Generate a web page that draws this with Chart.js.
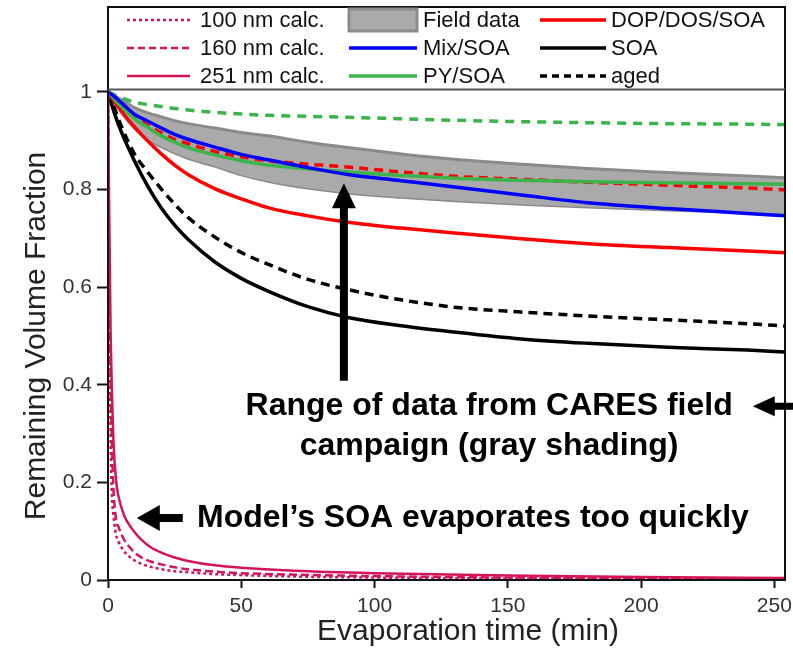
<!DOCTYPE html>
<html>
<head>
<meta charset="utf-8">
<title>Remaining volume fraction during evaporation</title>
<script src="https://cdn.jsdelivr.net/npm/chart.js@4.4.1/dist/chart.umd.min.js"></script>
<style>
  html, body { margin: 0; padding: 0; background: #fff; }
  #wrap { width: 793px; height: 652px; }
</style>
</head>
<body>
<div id="wrap"><canvas id="evapChart" width="793" height="652"></canvas></div>
<script>
// Evaporation times (min) for the chamber runs and field range
const runTimes = [0, 2.5, 5, 10, 15, 20, 25, 30, 40, 50, 60, 75, 90, 110, 130, 155, 180, 210, 240, 255];

// Field data range (gray band)
const fieldHigh = [1, 0.992, 0.984, 0.968, 0.957, 0.949, 0.941, 0.935, 0.926, 0.917, 0.910, 0.897, 0.886, 0.873, 0.862, 0.852, 0.843, 0.835, 0.828, 0.824];
const fieldLow  = [1, 0.978, 0.958, 0.925, 0.902, 0.888, 0.875, 0.864, 0.848, 0.830, 0.817, 0.803, 0.793, 0.784, 0.777, 0.770, 0.764, 0.758, 0.753, 0.750];

// Chamber runs (solid = fresh, dashed = aged)
const mixSoa     = [1, 0.990, 0.978, 0.954, 0.940, 0.926, 0.913, 0.903, 0.887, 0.872, 0.861, 0.845, 0.831, 0.818, 0.805, 0.789, 0.773, 0.761, 0.751, 0.746];
const pySoa      = [1, 0.985, 0.970, 0.945, 0.927, 0.910, 0.897, 0.886, 0.871, 0.859, 0.850, 0.842, 0.836, 0.829, 0.823, 0.819, 0.816, 0.814, 0.812, 0.811];
const pySoaAged  = [1, 0.994, 0.988, 0.979, 0.974, 0.970, 0.966, 0.963, 0.958, 0.955, 0.952, 0.950, 0.948, 0.945, 0.942, 0.939, 0.937, 0.935, 0.934, 0.933];
const dopSoa     = [1, 0.980, 0.961, 0.928, 0.899, 0.873, 0.850, 0.831, 0.802, 0.781, 0.763, 0.746, 0.733, 0.721, 0.711, 0.699, 0.689, 0.681, 0.674, 0.670];
const dopSoaAged = [1, 0.985, 0.972, 0.948, 0.931, 0.916, 0.903, 0.894, 0.878, 0.867, 0.859, 0.852, 0.846, 0.836, 0.827, 0.821, 0.815, 0.809, 0.803, 0.799];
const soa        = [1, 0.955, 0.918, 0.858, 0.806, 0.762, 0.727, 0.698, 0.652, 0.618, 0.592, 0.560, 0.538, 0.521, 0.508, 0.494, 0.485, 0.477, 0.471, 0.467];
const soaAged    = [1, 0.965, 0.930, 0.872, 0.835, 0.801, 0.770, 0.743, 0.703, 0.671, 0.647, 0.616, 0.595, 0.574, 0.559, 0.549, 0.541, 0.533, 0.525, 0.520];

// Model calculations for three particle sizes
const calcTimes = [0, 0.5, 1, 1.5, 2, 3, 4, 6, 8, 10, 13, 16, 20, 25, 30, 40, 50, 70, 100, 150, 200, 255];
const calc100 = [1, 0.55, 0.28, 0.17, 0.135, 0.094, 0.078, 0.059, 0.048, 0.040, 0.032, 0.027, 0.022, 0.018, 0.016, 0.012, 0.010, 0.007, 0.005, 0.003, 0.002, 0.002];
const calc160 = [1, 0.62, 0.40, 0.27, 0.19, 0.125, 0.108, 0.083, 0.068, 0.056, 0.045, 0.038, 0.032, 0.026, 0.022, 0.017, 0.014, 0.011, 0.008, 0.005, 0.004, 0.003];
const calc251 = [1, 0.72, 0.50, 0.38, 0.29, 0.205, 0.170, 0.133, 0.113, 0.098, 0.080, 0.067, 0.056, 0.046, 0.039, 0.030, 0.025, 0.019, 0.014, 0.009, 0.006, 0.004];

// Axis ticks
const xTickValues = [0, 50, 100, 150, 200, 250];
const yTickValues = [0, 0.2, 0.4, 0.6, 0.8, 1];

const MAGENTA = '#d4145a';
const RED = '#ff0000';
const BLUE = '#0000ff';
const GREEN = '#3cb44b';
const FONT = '"Liberation Sans", Arial, sans-serif';

function toPoints(xs, ys) {
    return xs.map((x, i) => ({ x: x, y: ys[i] }));
}

function lineSet(label, xs, ys, color, width, dash) {
    return {
        label: label,
        data: toPoints(xs, ys),
        borderColor: color,
        borderWidth: width,
        borderDash: dash || [],
        fill: false,
        order: 1
    };
}

const datasets = [
    lineSet('100 nm calc.', calcTimes, calc100, MAGENTA, 2.5, [3, 3]),
    lineSet('160 nm calc.', calcTimes, calc160, MAGENTA, 2.5, [8, 4]),
    lineSet('251 nm calc.', calcTimes, calc251, MAGENTA, 2.5),
    lineSet('Mix/SOA', runTimes, mixSoa, BLUE, 3.5),
    lineSet('PY/SOA', runTimes, pySoa, GREEN, 3.5),
    lineSet('PY/SOA aged', runTimes, pySoaAged, GREEN, 3.5, [9, 7]),
    lineSet('DOP/DOS/SOA aged', runTimes, dopSoaAged, RED, 3.5, [9, 6]),
    lineSet('DOP/DOS/SOA', runTimes, dopSoa, RED, 3.5),
    lineSet('SOA aged', runTimes, soaAged, '#000', 3.5, [9, 6]),
    lineSet('SOA', runTimes, soa, '#000', 3.5),
    {
        label: 'Field data',
        data: toPoints(runTimes, fieldHigh),
        borderColor: '#8a8a8a',
        borderWidth: 3,
        backgroundColor: '#aaaaaa',
        fill: '+1',
        order: 5
    },
    {
        label: 'Field data low',
        data: toPoints(runTimes, fieldLow),
        borderColor: '#8a8a8a',
        borderWidth: 3,
        fill: false,
        order: 5
    }
];

// Legend entries drawn inside the top of the plot box
const legendItems = [
    { col: 0, row: 0, text: '100 nm calc.', color: MAGENTA, width: 2.5, dash: [3, 3] },
    { col: 0, row: 1, text: '160 nm calc.', color: MAGENTA, width: 2.5, dash: [7, 4] },
    { col: 0, row: 2, text: '251 nm calc.', color: MAGENTA, width: 2.5, dash: [] },
    { col: 1, row: 0, text: 'Field data', box: true },
    { col: 1, row: 1, text: 'Mix/SOA', color: BLUE, width: 3.5, dash: [] },
    { col: 1, row: 2, text: 'PY/SOA', color: GREEN, width: 3.5, dash: [] },
    { col: 2, row: 0, text: 'DOP/DOS/SOA', color: RED, width: 3.5, dash: [] },
    { col: 2, row: 1, text: 'SOA', color: '#000', width: 3.5, dash: [] },
    { col: 2, row: 2, text: 'aged', color: '#000', width: 3.5, dash: [7, 5] }
];
const legendCols = [{ x0: 19, x1: 82, tx: 92 }, { x0: 241, x1: 309, tx: 315 }, { x0: 432, x1: 498, tx: 503 }];
const legendRowY = [13, 41, 69];

function drawArrow(ctx, tipX, tipY, dir, length, headLen, headHalf, shaft) {
    // dir: 'up' or 'left'
    ctx.beginPath();
    if (dir === 'up') {
        ctx.moveTo(tipX, tipY);
        ctx.lineTo(tipX + headHalf, tipY + headLen);
        ctx.lineTo(tipX + shaft / 2, tipY + headLen);
        ctx.lineTo(tipX + shaft / 2, tipY + length);
        ctx.lineTo(tipX - shaft / 2, tipY + length);
        ctx.lineTo(tipX - shaft / 2, tipY + headLen);
        ctx.lineTo(tipX - headHalf, tipY + headLen);
    } else {
        ctx.moveTo(tipX, tipY);
        ctx.lineTo(tipX + headLen, tipY - headHalf);
        ctx.lineTo(tipX + headLen, tipY - shaft / 2);
        ctx.lineTo(tipX + length, tipY - shaft / 2);
        ctx.lineTo(tipX + length, tipY + shaft / 2);
        ctx.lineTo(tipX + headLen, tipY + shaft / 2);
        ctx.lineTo(tipX + headLen, tipY + headHalf);
    }
    ctx.closePath();
    ctx.fillStyle = '#000';
    ctx.fill();
}

const decorations = {
    id: 'decorations',
    afterDraw(chart) {
        const ctx = chart.ctx;
        const area = chart.chartArea;
        const xs = chart.scales.x;
        const ys = chart.scales.y;
        ctx.save();

        // plot frame and legend box
        ctx.strokeStyle = '#111';
        ctx.lineWidth = 2;
        ctx.strokeRect(area.left, area.top, area.right - area.left, area.bottom - area.top);
        const legendBottom = ys.getPixelForValue(1.005);
        ctx.strokeStyle = '#555';
        ctx.beginPath();
        ctx.moveTo(area.left, legendBottom);
        ctx.lineTo(area.right, legendBottom);
        ctx.stroke();

        ctx.font = '22px ' + FONT;
        ctx.textBaseline = 'middle';
        ctx.textAlign = 'left';
        legendItems.forEach(item => {
            const c = legendCols[item.col];
            const y = area.top + legendRowY[item.row];
            if (item.box) {
                ctx.fillStyle = '#aaaaaa';
                ctx.fillRect(area.left + c.x0, y - 11, c.x1 - c.x0, 22);
                ctx.strokeStyle = '#8a8a8a';
                ctx.lineWidth = 3;
                ctx.strokeRect(area.left + c.x0, y - 11, c.x1 - c.x0, 22);
            } else {
                ctx.strokeStyle = item.color;
                ctx.lineWidth = item.width;
                ctx.setLineDash(item.dash);
                ctx.beginPath();
                ctx.moveTo(area.left + c.x0, y);
                ctx.lineTo(area.left + c.x1, y);
                ctx.stroke();
                ctx.setLineDash([]);
            }
            ctx.fillStyle = '#111';
            ctx.fillText(item.text, area.left + c.tx, y + 1);
        });

        // axis titles
        ctx.fillStyle = '#222';
        ctx.font = '30px ' + FONT;
        ctx.textAlign = 'center';
        ctx.fillText('Evaporation time (min)', 468, 632);
        ctx.save();
        ctx.translate(37, ys.getPixelForValue(0.5));
        ctx.rotate(-Math.PI / 2);
        ctx.fillText('Remaining Volume Fraction', 0, 0);
        ctx.restore();

        // annotations
        ctx.fillStyle = '#000';
        ctx.font = 'bold 32px ' + FONT;
        ctx.textAlign = 'center';
        const noteX = xs.getPixelForValue(143);
        ctx.fillText('Range of data from CARES field', noteX, ys.getPixelForValue(0.356));
        ctx.fillText('campaign (gray shading)', noteX, ys.getPixelForValue(0.274));
        ctx.textAlign = 'left';
        ctx.fillText('Model\u2019s SOA evaporates too quickly', xs.getPixelForValue(33.4), ys.getPixelForValue(0.127));

        const upX = xs.getPixelForValue(88.5);
        const upTip = ys.getPixelForValue(0.813);
        drawArrow(ctx, upX, upTip, 'up', ys.getPixelForValue(0.408) - upTip, 25, 12, 8);
        drawArrow(ctx, xs.getPixelForValue(10.8), ys.getPixelForValue(0.127), 'left', 46, 23, 13, 8);
        drawArrow(ctx, xs.getPixelForValue(241.9), ys.getPixelForValue(0.356), 'left', 50, 22, 10, 7);

        ctx.restore();
    }
};

const tickFont = { family: FONT, size: 21 };

new Chart(document.getElementById('evapChart'), {
    type: 'line',
    data: { datasets: datasets },
    plugins: [decorations],
    options: {
        responsive: false,
        animation: false,
        layout: { padding: { top: 7, right: 8, left: 0, bottom: 0 } },
        elements: {
            point: { radius: 0 },
            line: { cubicInterpolationMode: 'monotone' }
        },
        plugins: {
            legend: { display: false },
            tooltip: { enabled: false }
        },
        scales: {
            x: {
                type: 'linear',
                min: 0,
                max: 254,
                afterFit: scale => {
                    scale.height = 72;
                    scale.paddingLeft = 0;
                    scale.paddingRight = 0;
                },
                afterBuildTicks: scale => { scale.ticks = xTickValues.map(v => ({ value: v })); },
                grid: { drawOnChartArea: false, drawTicks: true, tickLength: 8, tickColor: '#111', tickWidth: 2 },
                border: { display: true, color: '#111', width: 2 },
                ticks: { color: '#333', font: tickFont, padding: 6, maxRotation: 0, callback: v => String(v) }
            },
            y: {
                type: 'linear',
                min: 0,
                max: 1.174,
                afterFit: scale => {
                    scale.width = 108;
                    scale.paddingTop = 0;
                    scale.paddingBottom = 0;
                },
                afterBuildTicks: scale => { scale.ticks = yTickValues.map(v => ({ value: v })); },
                grid: { drawOnChartArea: false, drawTicks: true, tickLength: 11, tickColor: '#111', tickWidth: 2 },
                border: { display: true, color: '#111', width: 2 },
                ticks: { color: '#333', font: tickFont, padding: 5, callback: v => String(Math.round(v * 10) / 10) }
            }
        }
    }
});
</script>
</body>
</html>
